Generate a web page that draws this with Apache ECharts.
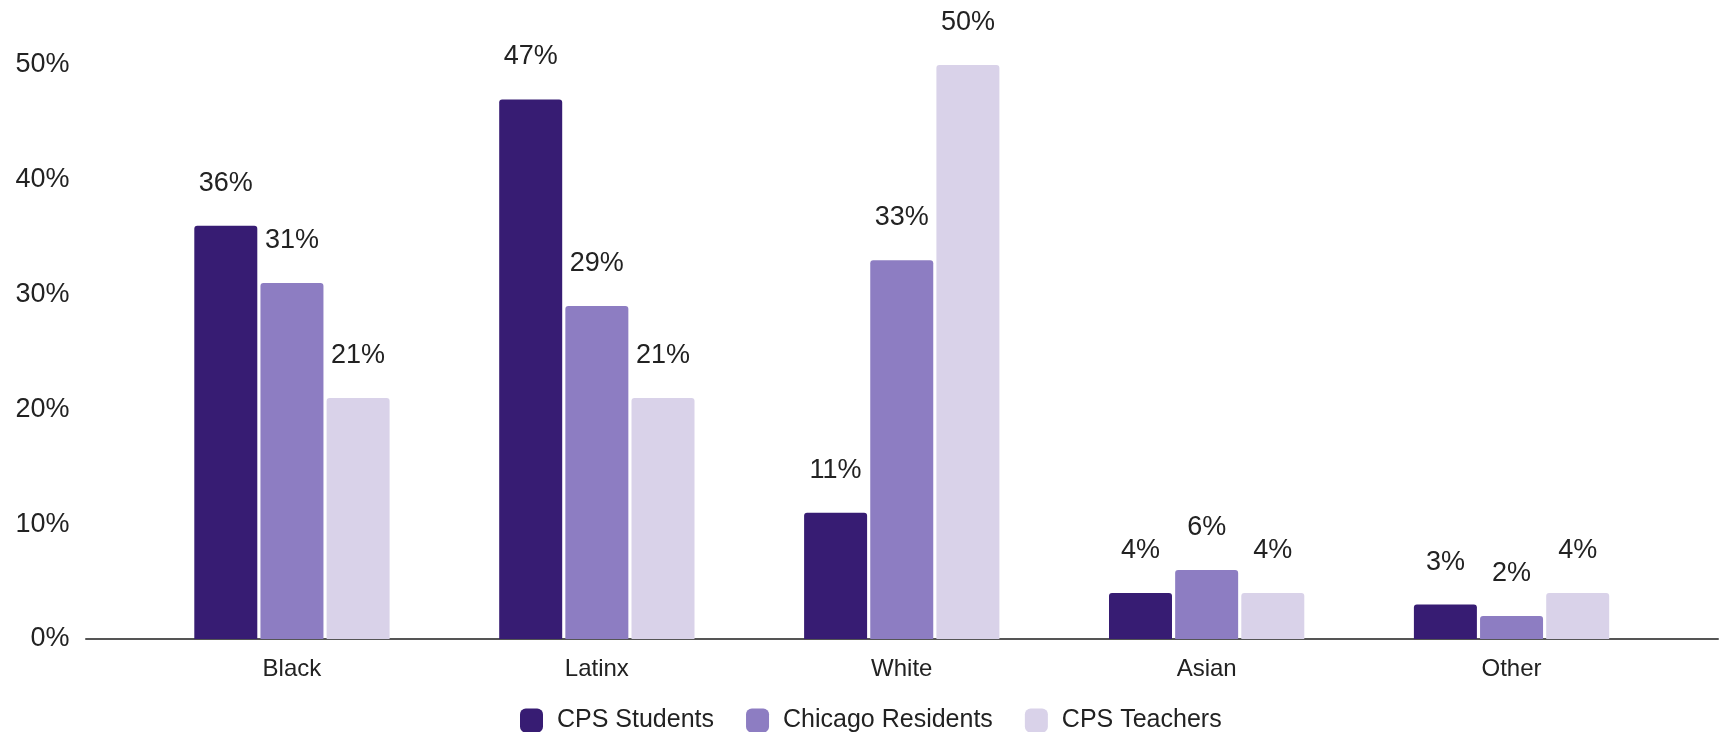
<!DOCTYPE html>
<html>
<head>
<meta charset="utf-8">
<script src="https://cdn.jsdelivr.net/npm/echarts@6/dist/echarts.min.js"></script>
<style>
  html, body { margin: 0; padding: 0; background: #fff; }
  #chart { width: 1721px; height: 732px; }
</style>
</head>
<body>
<div id="chart"></div>
<script>
// race / ethnicity groups
const categories = ['Black', 'Latinx', 'White', 'Asian', 'Other']
const cpsStudents = [36, 47, 11, 4, 3]
const chicagoResidents = [31, 29, 33, 6, 2]
const cpsTeachers = [21, 21, 50, 4, 4]
const seriesNames = ['CPS Students', 'Chicago Residents', 'CPS Teachers']
const colors = ['#371c73', '#8d7dc2', '#d9d2e9']
const yTicks = [0, 10, 20, 30, 40, 50]

const font = '"Liberation Sans", Arial, sans-serif'
const textColor = '#222'

function barSeries (name, data, color) {
  return {
    name: name,
    type: 'bar',
    xAxisIndex: 0,
    yAxisIndex: 0,
    barWidth: 63,
    barGap: '5%',
    data: data,
    itemStyle: {
      color: color,
      borderRadius: [3, 3, 0, 0]
    },
    label: {
      show: true,
      position: 'top',
      distance: 29,
      formatter: '{c}%',
      color: textColor,
      fontFamily: font,
      fontSize: 27
    }
  }
}

const chart = echarts.init(document.getElementById('chart'))
chart.setOption({
  backgroundColor: '#fff',
  animation: false,
  color: colors,
  legend: {
    left: 515,
    bottom: -6,
    itemWidth: 23,
    itemHeight: 24,
    itemGap: 32,
    icon: 'roundRect',
    textStyle: {
      color: textColor,
      fontFamily: font,
      fontSize: 25,
      padding: [0, 0, 0, 9]
    },
    data: seriesNames
  },
  grid: [
    // bars
    { left: 139.5, right: 57, top: 65, bottom: 93 },
    // baseline spanning the full width
    { left: 86, right: 3, top: 65, bottom: 93 }
  ],
  xAxis: [
    {
      type: 'category',
      gridIndex: 0,
      data: categories,
      axisLine: { show: false },
      axisTick: { show: false },
      axisLabel: {
        color: textColor,
        fontFamily: font,
        fontSize: 24,
        margin: 18
      }
    },
    {
      type: 'value',
      gridIndex: 1,
      min: 0,
      max: 1,
      axisLine: { show: true, lineStyle: { color: '#555', width: 2 } },
      axisTick: { show: false },
      axisLabel: { show: false },
      splitLine: { show: false }
    }
  ],
  yAxis: [
    {
      type: 'value',
      gridIndex: 0,
      min: yTicks[0],
      max: yTicks[yTicks.length - 1],
      interval: 10,
      axisLine: { show: false },
      axisTick: { show: false },
      splitLine: { show: false },
      axisLabel: {
        formatter: '{value}%',
        color: textColor,
        fontFamily: font,
        fontSize: 27,
        margin: 70
      }
    },
    {
      type: 'value',
      gridIndex: 1,
      min: 0,
      max: 1,
      show: false
    }
  ],
  series: [
    barSeries(seriesNames[0], cpsStudents, colors[0]),
    barSeries(seriesNames[1], chicagoResidents, colors[1]),
    barSeries(seriesNames[2], cpsTeachers, colors[2])
  ]
})
</script>
</body>
</html>
